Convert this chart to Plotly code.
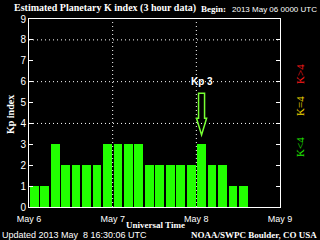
import plotly.graph_objects as go

# 3-hour Kp values starting 2013-05-06 00:00 UTC
kp_values = [1, 1, 3, 2, 2, 2, 2, 3,
             3, 3, 3, 2, 2, 2, 2, 2,
             3, 2, 2, 1, 1]
slot_hours = 3
day_ticks = [0, 24, 48, 72]
day_labels = ["May 6", "May 7", "May 8", "May 9"]
grid_levels = [4, 6, 8]
latest_index = 16

x_centers = [slot_hours * i + slot_hours / 2 for i in range(len(kp_values))]

fig = go.Figure()
fig.add_trace(go.Bar(
    x=x_centers, y=kp_values, width=slot_hours * 0.84,
    marker=dict(color="#22ff00", line=dict(width=0)),
    hoverinfo="skip",
))

W, H = 320, 240
ml, mr, mt, mb = 29, 40, 19, 33
pw, ph = W - ml - mr, H - mt - mb


def px(x):
    return (x - ml) / pw


def py(y):
    return (H - mb - y) / ph


dots = "1px,3px"
shapes = []
for g in grid_levels:
    shapes.append(dict(type="line", xref="paper", yref="y", x0=0, x1=1, y0=g, y1=g,
                       line=dict(color="white", width=1, dash=dots), layer="below"))
for d in day_ticks[1:-1]:
    shapes.append(dict(type="line", xref="x", yref="paper", x0=d, x1=d, y0=0, y1=1,
                       line=dict(color="white", width=1, dash=dots), layer="below"))

# arrow pointing to latest bar
xc = x_centers[latest_index]
v = kp_values[latest_index]
sw, hw = 0.86, 1.45
top, base, tip = v + 2.45, v + 1.25, v + 0.45
path = (f"M {xc - sw},{top} L {xc + sw},{top} L {xc + sw},{base} L {xc + hw},{base} "
        f"L {xc},{tip} L {xc - hw},{base} L {xc - sw},{base} Z")
shapes.append(dict(type="path", xref="x", yref="y", path=path,
                   line=dict(color="#77ff33", width=1.5), fillcolor="rgba(0,0,0,0)"))

serif = "Liberation Serif"
sans = "Liberation Sans"
annotations = [
    dict(text="<b>Estimated Planetary K index (3 hour data)</b>", x=px(12), y=py(8),
         xanchor="left", yanchor="middle", font=dict(family=serif, size=10, color="white")),
    dict(text="<b>Begin:</b>", x=px(199), y=py(9), xanchor="left", yanchor="middle",
         font=dict(family=serif, size=9, color="white")),
    dict(text="2013 May 06 0000 UTC", x=px(319), y=py(9), xanchor="right", yanchor="middle",
         font=dict(family=sans, size=8, color="white")),
    dict(text="<b>Kp index</b>", x=px(10), y=py(115), xanchor="center", yanchor="middle",
         textangle=-90, font=dict(family=serif, size=10, color="white")),
    dict(text="<b>Universal Time</b>", x=px(155), y=py(225), xanchor="center", yanchor="middle",
         font=dict(family=serif, size=9, color="white")),
    dict(text="Updated 2013 May  8 16:30:06 UTC", x=px(0), y=py(235), xanchor="left",
         yanchor="middle", font=dict(family=sans, size=9, color="white")),
    dict(text="<b>NOAA/SWPC Boulder, CO USA</b>", x=px(319), y=py(235), xanchor="right",
         yanchor="middle", font=dict(family=serif, size=9, color="white")),
    dict(text="K>4", x=px(300), y=py(74), xanchor="center", yanchor="middle", textangle=-90,
         font=dict(family=serif, size=11, color="#ff1a1a")),
    dict(text="K=4", x=px(300), y=py(106), xanchor="center", yanchor="middle", textangle=-90,
         font=dict(family=serif, size=11, color="#f0d800")),
    dict(text="K<4", x=px(300), y=py(147), xanchor="center", yanchor="middle", textangle=-90,
         font=dict(family=serif, size=11, color="#22ee00")),
    dict(text=f"<b>Kp {v}</b>", x=xc, y=v + 3.0, xref="x", yref="y", showarrow=False,
         xanchor="center", yanchor="middle", font=dict(family=sans, size=10, color="white")),
]
for a in annotations:
    a.setdefault("xref", "paper")
    a.setdefault("yref", "paper")
    a["showarrow"] = False

fig.update_layout(
    width=W, height=H,
    margin=dict(l=ml, r=mr, t=mt, b=mb, pad=0),
    paper_bgcolor="black", plot_bgcolor="black",
    showlegend=False, bargap=0,
    shapes=shapes, annotations=annotations,
    xaxis=dict(range=[day_ticks[0], day_ticks[-1]], tickvals=day_ticks, ticktext=day_labels,
               showgrid=False,
               showline=True, linecolor="white", linewidth=1, mirror=True,
               ticks="", zeroline=False, fixedrange=True, ticklabelstandoff=3,
               tickfont=dict(family=sans, size=9, color="white")),
    yaxis=dict(range=[0, 9], tickvals=list(range(10)), showgrid=False,
               showline=True, linecolor="white", linewidth=1, mirror="ticks",
               ticks="inside", ticklen=4, tickcolor="white", zeroline=False,
               fixedrange=True, tickfont=dict(family=sans, size=10, color="white")),
)

fig.write_html("out.html")
